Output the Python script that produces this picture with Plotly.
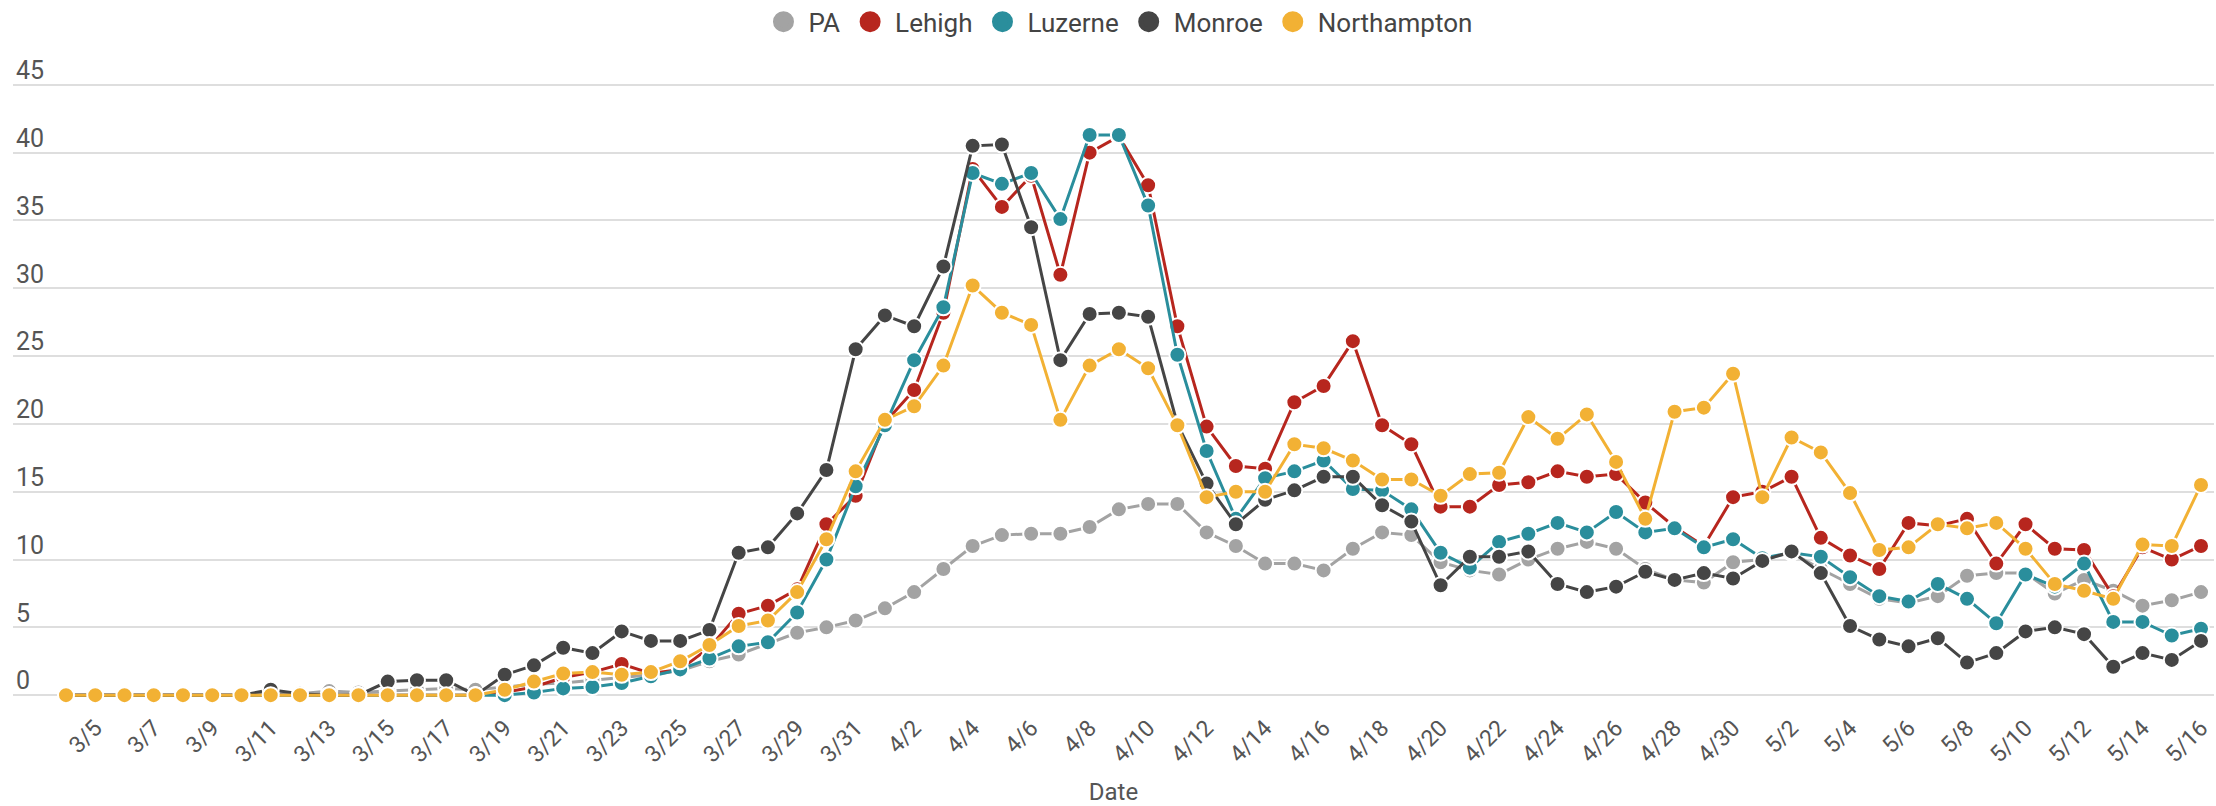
import plotly.graph_objects as go
import pandas as pd

# Categories: daily dates 3/4 .. 5/16
dates = [f"{d.month}/{d.day}" for d in pd.date_range("2020-03-04", "2020-05-16", freq="D")]
tick_labels = dates[1::2]

pa = [0, 0, 0, 0, 0, 0, 0, 0.1, 0.1, 0.3, 0.2, 0.3, 0.4, 0.5, 0.4, 0.6, 0.8, 0.9, 1.1, 1.3,
      1.5, 1.8, 2.5, 3.0, 3.8, 4.6, 5.0, 5.5, 6.4, 7.6, 9.3, 11.0, 11.8, 11.9, 11.9, 12.4, 13.7, 14.1,
      14.1, 12.0, 11.0, 9.7, 9.7, 9.2, 10.8, 12.0, 11.8, 9.8, 9.2, 8.9, 10.0, 10.8, 11.3, 10.8, 9.3,
      8.5, 8.3, 9.8, 10.0, 10.5, 9.3, 8.2, 7.1, 6.8, 7.3, 8.8, 9.0, 9.0, 7.5, 8.5, 7.7, 6.6, 7.0, 7.6]

lehigh = [0, 0, 0, 0, 0, 0, 0, 0, 0, 0, 0, 0, 0, 0, 0, 0.2, 0.6, 1.3, 1.7, 2.3,
          1.6, 1.9, 3.5, 6.0, 6.6, 7.8, 12.6, 14.7, 20.1, 22.5, 28.2, 38.8, 36.0, 38.3, 31.0, 40.0, 41.2, 37.6,
          27.2, 19.8, 16.9, 16.7, 21.6, 22.8, 26.1, 19.9, 18.5, 13.9, 13.9, 15.5, 15.7, 16.5, 16.1, 16.3, 14.2,
          12.4, 11.0, 14.6, 15.0, 16.1, 11.6, 10.3, 9.3, 12.7, 12.5, 13.0, 9.7, 12.6, 10.8, 10.7, 7.3, 10.9, 10.0, 11.0]

luzerne = [0, 0, 0, 0, 0, 0, 0, 0, 0, 0, 0, 0, 0, 0, 0, 0, 0.2, 0.5, 0.6, 0.9,
           1.4, 1.9, 2.7, 3.6, 3.9, 6.1, 10.0, 15.4, 19.9, 24.7, 28.6, 38.5, 37.7, 38.5, 35.1, 41.3, 41.3, 36.1,
           25.1, 18.0, 13.0, 16.0, 16.5, 17.3, 15.2, 15.1, 13.7, 10.5, 9.4, 11.3, 11.9, 12.7, 12.0, 13.5, 12.0,
           12.3, 10.9, 11.5, 10.1, 10.5, 10.2, 8.7, 7.3, 6.9, 8.2, 7.1, 5.3, 8.9, 8.0, 9.7, 5.4, 5.4, 4.4, 4.9]

monroe = [0, 0, 0, 0, 0, 0, 0, 0.4, 0.1, 0, 0, 1.0, 1.1, 1.1, 0, 1.5, 2.2, 3.5, 3.1, 4.7,
          4.0, 4.0, 4.8, 10.5, 10.9, 13.4, 16.6, 25.5, 28.0, 27.2, 31.6, 40.5, 40.6, 34.5, 24.7, 28.1, 28.2, 27.9,
          20.0, 15.6, 12.6, 14.4, 15.1, 16.1, 16.1, 14.0, 12.8, 8.1, 10.2, 10.2, 10.6, 8.2, 7.6, 8.0, 9.1,
          8.5, 9.0, 8.6, 9.9, 10.6, 9.0, 5.1, 4.1, 3.6, 4.2, 2.4, 3.1, 4.7, 5.0, 4.5, 2.1, 3.1, 2.6, 4.0]

northampton = [0, 0, 0, 0, 0, 0, 0, 0, 0, 0, 0, 0, 0, 0, 0, 0.4, 1.0, 1.6, 1.7, 1.5,
               1.7, 2.5, 3.7, 5.1, 5.5, 7.6, 11.5, 16.5, 20.3, 21.3, 24.3, 30.2, 28.2, 27.3, 20.3, 24.3, 25.5, 24.1,
               19.9, 14.6, 15.0, 15.0, 18.5, 18.2, 17.3, 15.9, 15.9, 14.7, 16.3, 16.4, 20.5, 18.9, 20.7, 17.2, 13.0,
               20.9, 21.2, 23.7, 14.6, 19.0, 17.9, 14.9, 10.7, 10.9, 12.6, 12.3, 12.7, 10.8, 8.2, 7.7, 7.1, 11.1, 11.0, 15.5]

series_names = ["PA", "Lehigh", "Luzerne", "Monroe", "Northampton"]
series_values = [pa, lehigh, luzerne, monroe, northampton]
series_colors = ["#a3a3a3", "#b7261e", "#2a8e9c", "#454545", "#f2b134"]

fig = go.Figure()
for name, vals, col in zip(series_names, series_values, series_colors):
    fig.add_trace(go.Scatter(
        x=dates, y=vals, name=name, mode="lines+markers",
        legendgroup=name, showlegend=False,
        line=dict(color=col, width=3),
        marker=dict(color=col, size=16, line=dict(color="white", width=2)),
    ))
# legend entries: plain filled circles, as in the original chart's key
for name, col in zip(series_names, series_colors):
    fig.add_trace(go.Scatter(
        x=[None], y=[None], name=name, mode="markers",
        legendgroup=name, showlegend=True,
        marker=dict(color=col, size=30, line=dict(color=col, width=5)),
    ))

fig.update_layout(
    width=2216, height=806,
    margin=dict(l=13, r=2, t=40, b=97),
    paper_bgcolor="white", plot_bgcolor="white",
    font=dict(family="Roboto, sans-serif", size=22, color="#555555"),
    showlegend=True,
    legend=dict(
        orientation="h", xref="container", yref="container",
        x=0.5045, xanchor="center", y=0.973, yanchor="middle",
        font=dict(size=26, color="#444444"),
        itemsizing="trace", traceorder="normal", itemwidth=40,
    ),
    xaxis=dict(
        type="category", categoryorder="array", categoryarray=dates,
        range=[-1.812, 73.444],
        tickmode="array", tickvals=tick_labels, ticktext=tick_labels,
        tickangle=-45, tickfont=dict(size=23, color="#555555"),
        showgrid=False, showline=False, zeroline=False, ticks="",
        title=dict(text="Date", font=dict(size=24, color="#555555"), standoff=16),
    ),
    yaxis=dict(
        range=[-1.02, 47.77], dtick=5, tick0=0,
        ticklabelposition="inside top", ticklabelshift=3,
        tickfont=dict(size=25, color="#555555"),
        showgrid=True, gridcolor="#dedede", gridwidth=2,
        zeroline=False, showline=False, ticks="",
    ),
)

fig.write_html("out.html")
